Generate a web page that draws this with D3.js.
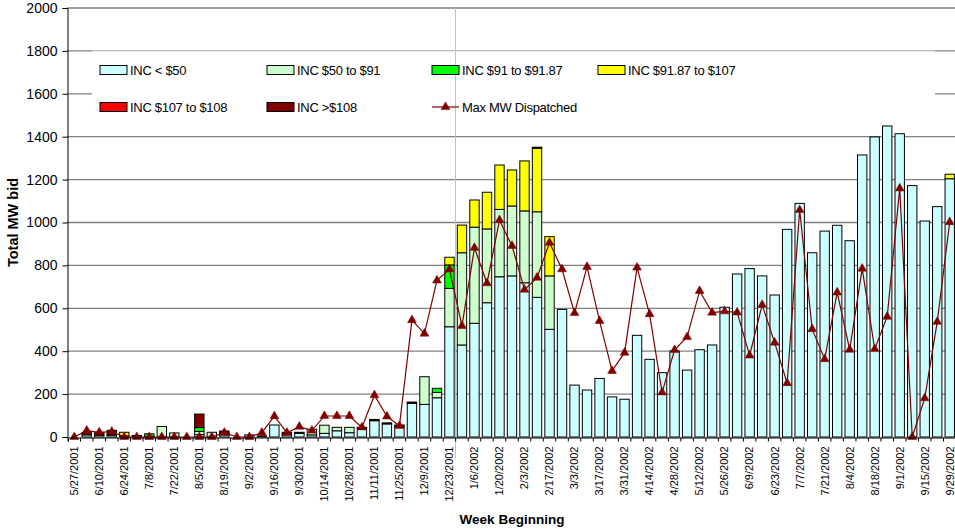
<!DOCTYPE html>
<html>
<head>
<meta charset="utf-8">
<script src="https://cdn.jsdelivr.net/npm/d3@7"></script>
<style>
body { margin: 0; background: #fff; }
text { font-family: "Liberation Sans", Arial, sans-serif; }
</style>
</head>
<body>
<svg id="chart" width="955" height="529"></svg>
<script>
// weeks
var weeks = ["5/27/2001","6/3/2001","6/10/2001","6/17/2001","6/24/2001","7/1/2001","7/8/2001","7/15/2001","7/22/2001","7/29/2001",
  "8/5/2001","8/12/2001","8/19/2001","8/26/2001","9/2/2001","9/9/2001","9/16/2001","9/23/2001","9/30/2001","10/7/2001",
  "10/14/2001","10/21/2001","10/28/2001","11/4/2001","11/11/2001","11/18/2001","11/25/2001","12/2/2001","12/9/2001","12/16/2001",
  "12/23/2001","12/30/2001","1/6/2002","1/13/2002","1/20/2002","1/27/2002","2/3/2002","2/10/2002","2/17/2002","2/24/2002",
  "3/3/2002","3/10/2002","3/17/2002","3/24/2002","3/31/2002","4/7/2002","4/14/2002","4/21/2002","4/28/2002","5/5/2002",
  "5/12/2002","5/19/2002","5/26/2002","6/2/2002","6/9/2002","6/16/2002","6/23/2002","6/30/2002","7/7/2002","7/14/2002",
  "7/21/2002","7/28/2002","8/4/2002","8/11/2002","8/18/2002","8/25/2002","9/1/2002","9/8/2002","9/15/2002","9/22/2002",
  "9/29/2002"];

var incLt50 = [0,10,8,8,0,0,0,0,0,0, 11,0,10,0,10,5,56,10,17,10, 17,29,20,42,76,61,48,157,152,183,
  514,429,530,626,747,751,719,651,502,595, 242,219,273,187,176,474,362,300,401,312,
  407,429,605,760,785,751,662,968,1089,859, 960,987,915,1315,1399,1450,1414,1172,1007,1074, 1204];
var inc50to91 = [0,0,0,5,5,0,3,49,19,0, 15,22,8,0,0,0,0,0,0,26, 38,16,25,0,0,0,0,0,129,25,
  179,430,448,344,314,326,335,399,249,0, 0,0,0,0,0,0,0,0,0,0,
  0,0,0,0,0,0,0,0,0,0, 0,0,0,0,0,0,0,0,0,0, 0];
var inc91to9187 = [0,0,0,0,0,0,12,0,0,0, 18,0,0,0,0,0,0,0,0,0, 0,0,0,0,0,0,0,0,0,19,
  109,0,0,0,0,0,0,0,0,0, 0,0,0,0,0,0,0,0,0,0,
  0,0,0,0,0,0,0,0,0,0, 0,0,0,0,0,0,0,0,0,0, 0];
var inc9187to107 = [0,0,0,0,17,0,0,0,0,0, 0,0,0,0,0,0,0,0,0,0, 0,0,0,0,0,0,0,0,0,0,
  36,129,127,171,207,168,233,296,183,0, 0,0,0,0,0,0,0,0,0,0,
  0,0,0,0,0,0,0,0,0,0, 0,0,0,0,0,0,0,0,0,0, 21];
var inc107to108 = [0,0,0,0,0,0,0,0,0,0, 0,0,0,0,0,0,0,0,0,0, 0,0,0,0,0,0,0,0,0,0,
  0,0,0,0,0,0,0,0,0,0, 0,0,0,0,0,0,0,0,0,0,
  0,0,0,0,0,0,0,0,0,0, 0,0,0,0,0,0,0,0,0,0, 0];
var incGt108 = [0,12,12,18,0,7,0,0,0,0, 63,0,10,0,0,0,0,12,5,0, 0,0,0,3,6,5,8,6,0,0,
  0,0,0,0,0,0,0,5,0,0, 0,0,0,0,0,0,0,0,0,0,
  0,0,0,0,0,0,0,0,0,0, 0,0,0,0,0,0,0,0,0,0, 0];
var maxDispatched = [0,30,22,25,0,0,0,0,0,0, 0,0,20,0,0,20,97,20,48,30, 98,98,98,45,195,96,52,545,482,730,
  782,518,882,717,1011,891,687,743,906,782, 578,793,541,308,393,790,573,208,406,466,
  681,580,586,581,380,616,440,251,1058,503, 363,674,407,785,410,561,1159,0,181,537, 1002];

var yTicks = [0,200,400,600,800,1000,1200,1400,1600,1800,2000];

var seriesNames = ["INC < $50","INC $50 to $91","INC $91 to $91.87","INC $91.87 to $107","INC $107 to $108","INC >$108"];
var seriesColors = ["#ccffff","#ccffcc","#00ff00","#ffff00","#ff0000","#800000"];
var lineName = "Max MW Dispatched";
var lineColor = "#800000";

// build table for stacking
var table = weeks.map(function (w, i) {
  return {
    week: w,
    s0: incLt50[i], s1: inc50to91[i], s2: inc91to9187[i],
    s3: inc9187to107[i], s4: inc107to108[i], s5: incGt108[i],
    max: maxDispatched[i]
  };
});
var keys = ["s0","s1","s2","s3","s4","s5"];

var svg = d3.select("#chart");
var plotL = 68, plotR = 956, plotT = 8, plotB = 437;

var x = d3.scaleBand().domain(weeks).range([plotL, plotR])
  .paddingInner(0.25).paddingOuter(0.125);
var y = d3.scaleLinear().domain([0, 2000]).range([plotB, plotT]);

// gridlines
svg.append("g").selectAll("line").data(yTicks.slice(1)).join("line")
  .attr("x1", plotL - 1).attr("x2", 955)
  .attr("y1", function (d) { return y(d); }).attr("y2", function (d) { return y(d); })
  .attr("stroke", "#808080").attr("stroke-width", 1.3);

// legend box (covers gridlines)
svg.append("rect").attr("x", 92).attr("y", y(1800)).attr("width", 843).attr("height", 68)
  .attr("fill", "#fff");
svg.append("line").attr("x1", 92).attr("x2", 935).attr("y1", y(1800)).attr("y2", y(1800))
  .attr("stroke", "#c8c8c8").attr("stroke-width", 1);

// bars
var stacked = d3.stack().keys(keys)(table);
svg.append("g").selectAll("g").data(stacked).join("g")
  .attr("fill", function (d, i) { return seriesColors[i]; })
  .selectAll("rect").data(function (d) { return d.filter(function (e) { return e[1] > e[0]; }); }).join("rect")
    .attr("x", function (d) { return x(d.data.week); })
    .attr("width", x.bandwidth())
    .attr("y", function (d) { return y(d[1]); })
    .attr("height", function (d) { return y(d[0]) - y(d[1]); })
    .attr("stroke", "#000").attr("stroke-width", 1);

// stray vertical line
svg.append("line").attr("x1", 455.5).attr("x2", 455.5).attr("y1", plotT).attr("y2", 458)
  .attr("stroke", "#c0c0c0").attr("stroke-width", 1);

// max MW line
var line = d3.line()
  .x(function (d) { return x(d.week) + x.bandwidth() / 2; })
  .y(function (d) { return y(d.max); });
svg.append("path").datum(table).attr("d", line)
  .attr("fill", "none").attr("stroke", lineColor).attr("stroke-width", 1.2);

var tri = d3.symbol().type(d3.symbolTriangle).size(34);
svg.append("g").selectAll("path").data(table).join("path")
  .attr("d", tri)
  .attr("transform", function (d) { return "translate(" + (x(d.week) + x.bandwidth() / 2) + "," + y(d.max) + ")"; })
  .attr("fill", lineColor).attr("stroke", lineColor).attr("stroke-width", 0.5);

// y axis
var yAxis = svg.append("g").attr("transform", "translate(" + (plotL - 0.5) + ",0)")
  .call(d3.axisLeft(y).tickValues(yTicks).tickFormat(d3.format("d")).tickSize(5).tickPadding(5));
yAxis.selectAll("text").attr("font-size", 14).attr("fill", "#000")
  .attr("font-family", "Liberation Sans, Arial, sans-serif");
yAxis.selectAll("line, path").attr("stroke", "#000");

// x axis, ticks at band boundaries
var step = x.step();
var xAxis = svg.append("g").attr("transform", "translate(0," + (plotB + 0.5) + ")")
  .call(d3.axisBottom(x).tickSizeOuter(0).tickSize(4)
    .tickFormat(function (d, i) { return i % 2 === 0 ? d : ""; }));
xAxis.select(".domain").attr("stroke", "#000");
xAxis.selectAll(".tick line").attr("stroke", "#000")
  .attr("x1", -step / 2).attr("x2", -step / 2);
xAxis.selectAll(".tick text")
  .attr("font-size", 11).attr("fill", "#000")
  .attr("font-family", "Liberation Sans, Arial, sans-serif")
  .attr("text-anchor", "end")
  .attr("transform", "rotate(-90)")
  .attr("x", -9).attr("y", 0).attr("dy", "0.35em");
svg.append("line").attr("x1", plotR).attr("x2", plotR).attr("y1", plotB).attr("y2", plotB + 4)
  .attr("stroke", "#000");

// axis titles
svg.append("text").attr("transform", "translate(18," + ((plotT + plotB) / 2) + ") rotate(-90)")
  .attr("text-anchor", "middle").attr("font-size", 14.5).attr("font-weight", "bold")
  .text("Total MW bid");
svg.append("text").attr("x", (plotL + plotR) / 2).attr("y", 524)
  .attr("text-anchor", "middle").attr("font-size", 13.5).attr("font-weight", "bold")
  .text("Week Beginning");

// legend
var legendPos = [[100,70],[267,70],[432,70],[598,70],[100,107],[267,107]];
var lg = svg.append("g");
seriesNames.forEach(function (name, i) {
  var p = legendPos[i];
  lg.append("rect").attr("x", p[0]).attr("y", p[1] - 4.5).attr("width", 27).attr("height", 9)
    .attr("fill", seriesColors[i]).attr("stroke", "#000").attr("stroke-width", 1);
  lg.append("text").attr("x", p[0] + 30).attr("y", p[1]).attr("dy", "0.35em")
    .attr("font-size", 13).attr("letter-spacing", -0.3).text(name);
});
lg.append("line").attr("x1", 432).attr("x2", 459).attr("y1", 107).attr("y2", 107)
  .attr("stroke", lineColor).attr("stroke-width", 1.2);
lg.append("path").attr("d", tri).attr("transform", "translate(445.5,107)")
  .attr("fill", lineColor).attr("stroke", lineColor).attr("stroke-width", 0.5);
lg.append("text").attr("x", 462).attr("y", 107).attr("dy", "0.35em")
  .attr("font-size", 13).attr("letter-spacing", -0.3).text(lineName);
</script>
</body>
</html>
